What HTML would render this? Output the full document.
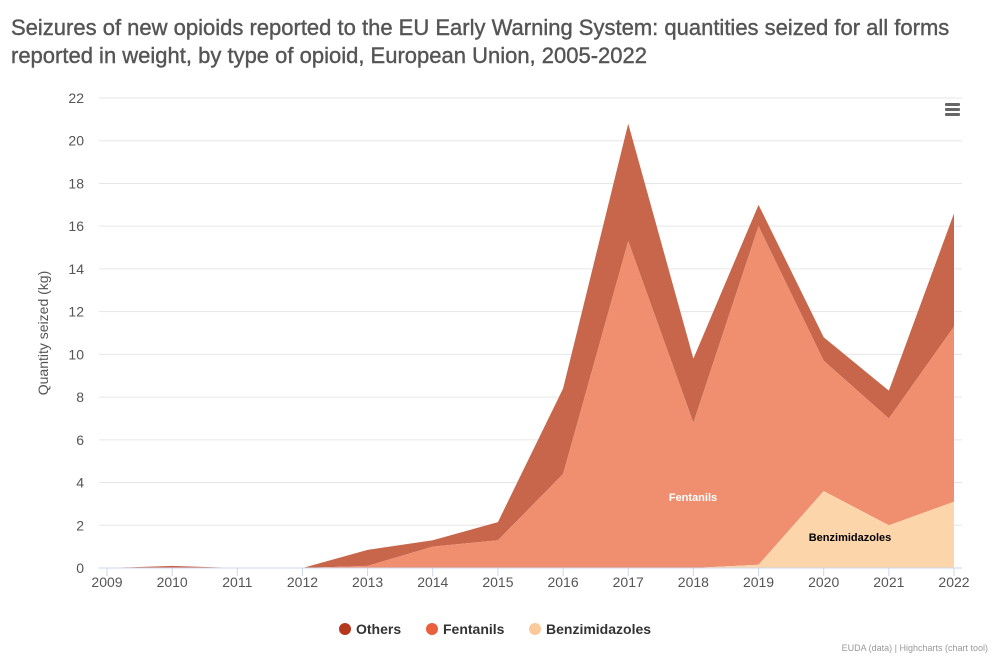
<!DOCTYPE html>
<html><head><meta charset="utf-8"><style>
body{margin:0;background:#fff;font-family:"Liberation Sans",sans-serif;}
#wrap{position:relative;width:999px;height:665px;overflow:hidden}
h1{position:absolute;left:11px;top:14px;margin:0;font-size:22px;font-weight:normal;color:#555;line-height:28px;width:960px;-webkit-text-stroke:0.4px #555}
</style></head><body><div id="wrap">
<h1>Seizures of new opioids reported to the EU Early Warning System: quantities seized for all forms reported in weight, by type of opioid, European Union, 2005-2022</h1>
<svg id="svg" width="999" height="665" style="position:absolute;left:0;top:0" font-family="Liberation Sans, sans-serif"></svg>
</div>
<script>
const years=[2009,2010,2011,2012,2013,2014,2015,2016,2017,2018,2019,2020,2021,2022];
const benzimidazoles=[0,0,0,0,0,0,0,0,0,0,0.15,3.6,2.0,3.1];
const fentanils=[0,0,0,0,0.1,1.0,1.3,4.4,15.3,6.8,15.85,6.1,5.0,8.2];
const others=[0,0.1,0,0,0.75,0.3,0.85,4.0,5.5,3.0,1.0,1.1,1.3,5.3];
const yTicks=[0,2,4,6,8,10,12,14,16,18,20,22];
const NS="http://www.w3.org/2000/svg",svg=document.getElementById('svg');
const x0=107,x1=954,y0=568,y1=98;
const xs=i=>x0+(x1-x0)*i/(years.length-1);
const ys=v=>y0-(y0-y1)*v/22;
function mk(t,a,p){const e=document.createElementNS(NS,t);for(const k in a)e.setAttribute(k,a[k]);(p||svg).appendChild(e);return e;}
yTicks.forEach(t=>{
 const l=mk('line',{x1:x0-8,x2:962,y1:ys(t),y2:ys(t),stroke:'#e6e6e6'});
 
 
 const tx=mk('text',{x:84,y:ys(t)+5,'text-anchor':'end','font-size':14,fill:'#555'});tx.textContent=t;
 
 
});
const yt=mk('text',{transform:'translate(48,333) rotate(-90)','text-anchor':'middle','font-size':14,fill:'#555'});yt.textContent='Quantity seized (kg)';


const s1=benzimidazoles,s2=years.map((_,i)=>s1[i]+fentanils[i]),s3=years.map((_,i)=>s2[i]+others[i]);
function area(top,bot,fill,name){
 let d='M'+years.map((_,i)=>xs(i)+','+ys(top[i])).join('L');
 for(let i=years.length-1;i>=0;i--)d+='L'+xs(i)+','+ys(bot[i]);
 const p=mk('path',{d:d+'Z',fill:fill});
 
 
}
const zero=years.map(()=>0);
area(s3,s2,'#c8664c','area-others');
area(s2,s1,'#ef8f70','area-fentanils');
area(s1,zero,'#fdd5ab','area-benzimidazoles');
const ax=mk('line',{x1:x0-8,x2:962,y1:y0,y2:y0,stroke:'#ccd6eb'});


years.forEach((yr,i)=>{
 mk('line',{x1:xs(i),x2:xs(i),y1:y0,y2:y0+8,stroke:'#ccd6eb'});
 const t=mk('text',{x:xs(i),y:587,'text-anchor':'middle','font-size':14,fill:'#555'});t.textContent=yr;
 
 
});
const l1=mk('text',{x:693,y:501,'text-anchor':'middle','font-size':11,'font-weight':'bold',fill:'#fff'});l1.textContent='Fentanils';


const l2=mk('text',{x:850,y:541,'text-anchor':'middle','font-size':11,'font-weight':'bold',fill:'#000'});l2.textContent='Benzimidazoles';


[['Others','#b5381c',345],['Fentanils','#e8603c',432],['Benzimidazoles','#fcc99a',535]].forEach(([n,c,x])=>{
 const g=mk('g',{});
 
 
 mk('circle',{cx:x,cy:629,r:6,fill:c},g);
 const t=mk('text',{x:x+11,y:634,'font-size':14,'font-weight':'bold',fill:'#333'},g);t.textContent=n;
});
const cr=mk('text',{x:988,y:651,'text-anchor':'end','font-size':9,fill:'#999'});cr.textContent='EUDA (data) | Highcharts (chart tool)';


const mg=mk('g',{});


[104,109,114].forEach(y=>mk('rect',{x:945,y:y-1,width:15,height:3,rx:1,fill:'#666'},mg));
</script></body></html>
